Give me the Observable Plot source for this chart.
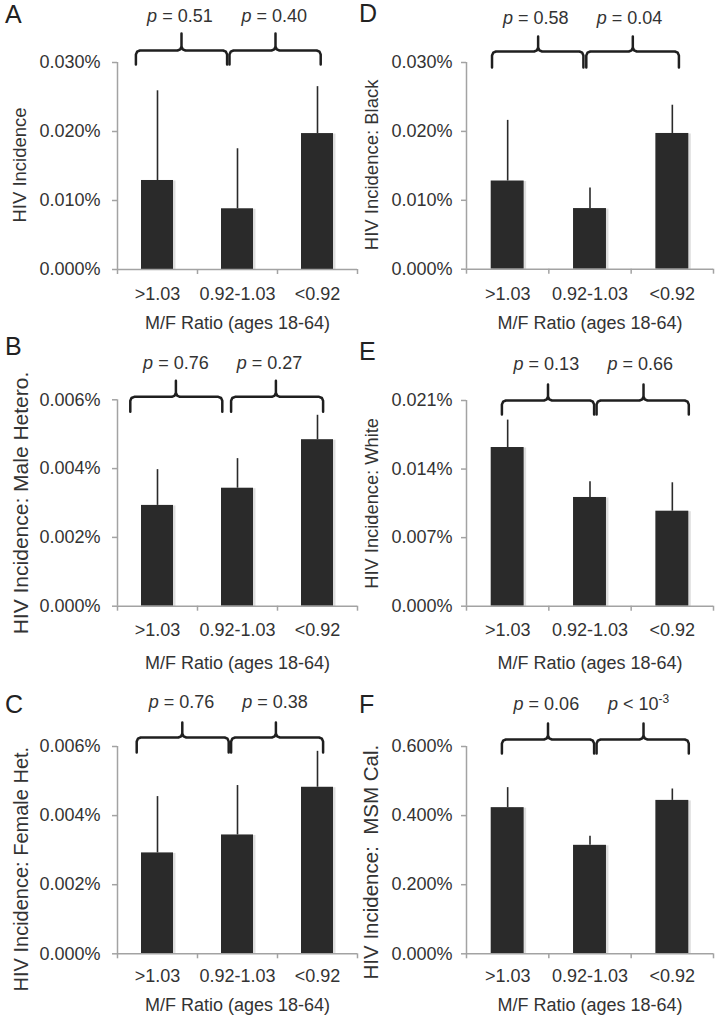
<!DOCTYPE html>
<html>
<head>
<meta charset="utf-8">
<script src="https://cdn.jsdelivr.net/npm/d3@7"></script>
<script src="https://cdn.jsdelivr.net/npm/@observablehq/plot@0.6"></script>
<style>
  body { margin: 0; background: #fff; font-family: "Liberation Sans", Arial, sans-serif; }
  #root { position: relative; width: 715px; height: 1021px; overflow: hidden; background: #fff; }
  .panel { position: absolute; }
  .panel svg { overflow: visible; }
  .letter { position: absolute; font-size: 25px; line-height: 1; color: #222; font-family: "Liberation Sans", Arial, sans-serif; }
  .ptext text { white-space: pre; }
</style>
</head>
<body>
<div id="root"></div>
<script>
// ---------- data ----------
const categories = [">1.03", "0.92-1.03", "<0.92"];
const xTitle = "M/F Ratio (ages 18-64)";
const letters = ["A", "B", "C", "D", "E", "F"];
const yTitles = [
  "HIV Incidence",
  "HIV Incidence: Male Hetero.",
  "HIV Incidence: Female Het.",
  "HIV Incidence: Black",
  "HIV Incidence: White",
  "HIV Incidence:  MSM Cal."
];
// y axis maxima (percent)
const yMaxima = [0.030, 0.006, 0.006, 0.030, 0.021, 0.600];
// incidence (percent) and upper error bound (percent)
const incidenceA = [0.0129, 0.0088, 0.0197];
const upperA     = [0.0259, 0.0175, 0.0265];
const incidenceB = [0.00293, 0.00343, 0.00484];
const upperB     = [0.00397, 0.00429, 0.00555];
const incidenceC = [0.00292, 0.00344, 0.00482];
const upperC     = [0.00455, 0.00487, 0.00586];
const incidenceD = [0.0128, 0.0088, 0.0197];
const upperD     = [0.0216, 0.0118, 0.0238];
const incidenceE = [0.0162, 0.0111, 0.0097];
const upperE     = [0.0190, 0.0127, 0.0126];
const incidenceF = [0.423, 0.314, 0.444];
const upperF     = [0.481, 0.340, 0.477];
const pLabels = [
  ["p = 0.51", "p = 0.40"],
  ["p = 0.76", "p = 0.27"],
  ["p = 0.76", "p = 0.38"],
  ["p = 0.58", "p = 0.04"],
  ["p = 0.13", "p = 0.66"],
  ["p = 0.06", "p < 10^-3"]
];
const incidences = [incidenceA, incidenceB, incidenceC, incidenceD, incidenceE, incidenceF];
const uppers = [upperA, upperB, upperC, upperD, upperE, upperF];

// ---------- layout (positions, not data) ----------
const layout = [
  {left: 0,   top: 0,   width: 357, height: 340, mL: 117, mR: 0, mT: 62, mB: 71,   yPad: 12, xLab: 31,   xT: 59.5, tX: 20,   tDy: -1, tSize: 18.5,
   br: [[0.23, 1.37, 0.80], [1.40, 2.54, 1.975]], bY: [-2, 12, 29, 41], tx: [0.78, 1.96], lx: 5,   ly: 2},
  {left: 0,   top: 340, width: 357, height: 340, mL: 117, mR: 0, mT: 59.3, mB: 74.3, yPad: 12, xLab: 29.5, xT: 62.5, tX: 20.7, tDy: 0, tSize: 21,
   br: [[0.16, 1.31, 0.73], [1.42, 2.57, 1.98]], bY: [-12, 3, 19, 31], tx: [0.73, 1.90], lx: 5,   ly: 334},
  {left: 0,   top: 680, width: 357, height: 341, mL: 117, mR: 0, mT: 66, mB: 67.7, yPad: 12, xLab: 28.5, xT: 57,   tX: 20.7, tDy: 19, tSize: 20,
   br: [[0.24, 1.39, 0.81], [1.42, 2.57, 1.98]], bY: [-6, 9, 24, 39], tx: [0.80, 1.97], lx: 5,   ly: 692},
  {left: 357, top: 0,   width: 358, height: 340, mL: 109, mR: 2, mT: 62, mB: 71.3, yPad: 9,  xLab: 31,   xT: 59.5, tX: 15,   tDy: -1, tSize: 18.5,
   br: [[0.31, 1.42, 0.87], [1.455, 2.58, 2.02]], bY: [-5, 11, 26, 39], tx: [0.84, 1.98], lx: 359, ly: 1},
  {left: 357, top: 340, width: 358, height: 340, mL: 109, mR: 2, mT: 60, mB: 74.3, yPad: 9,  xLab: 29.5, xT: 62.5, tX: 15,   tDy: 0, tSize: 18.3,
   br: [[0.43, 1.55, 0.99], [1.58, 2.70, 2.15]], bY: [-14, 0, 16, 31], tx: [0.97, 2.11], lx: 359, ly: 339},
  {left: 357, top: 680, width: 358, height: 341, mL: 109, mR: 2, mT: 66, mB: 67.7, yPad: 9,  xLab: 28.5, xT: 57,   tX: 14.3, tDy: 12, tSize: 20.5,
   br: [[0.43, 1.55, 0.99], [1.58, 2.70, 2.15]], bY: [-7, 7, 23, 37], tx: [0.97, 2.09], lx: 359, ly: 692}
];

const AXIS = "#a3a3a3";
const INK = "#333";
const BAR = "#2a2a2a";
const fmt = d => d.toFixed(3) + "%";

function richP(el) {
  const s = el.textContent;
  el.textContent = "";
  const sel = d3.select(el);
  sel.append("tspan").attr("font-style", "italic").text(s[0]);
  const parts = s.slice(1).split("^");
  sel.append("tspan").text(parts[0]);
  if (parts[1]) sel.append("tspan").attr("font-size", "12px").attr("dy", "-7").text(parts[1]);
}

const root = document.getElementById("root");

layout.forEach((L, k) => {
  const max = yMaxima[k];
  const data = categories.map((c, i) => ({i, c, v: incidences[k][i], e: uppers[k][i]}));
  const W = L.width - L.mL - L.mR;
  const band = W / 3;
  const H = L.height - L.mT - L.mB;
  const yv = px => max * (1 + px / H);
  const ru = 4 / band;
  const [ye, yh, yp, yt] = L.bY;
  const brace = ([x0, x1, xp]) => [
    [x0, ye], [x0, yh - 4], [x0 + 0.3 * ru, yh - 1.2], [x0 + ru, yh],
    [xp - ru, yh], [xp - 0.3 * ru, yh + 1.2], [xp, yh + 4], [xp, yp],
    [xp, yh + 4], [xp + 0.3 * ru, yh + 1.2], [xp + ru, yh],
    [x1 - ru, yh], [x1 - 0.3 * ru, yh - 1.2], [x1, yh - 4], [x1, ye]
  ].map(([x, y]) => ({x, y: yv(y)}));
  const ticks = [0, max / 3, 2 * max / 3, max];
  const pData = pLabels[k].map((t, j) => ({x: L.tx[j], t}));

  const svg = Plot.plot({
    width: L.width, height: L.height,
    marginLeft: L.mL, marginRight: L.mR, marginTop: L.mT, marginBottom: L.mB,
    x: {domain: [0, 3]},
    y: {domain: [0, max]},
    style: {fontFamily: "Liberation Sans, Arial, sans-serif", fontSize: "18px", background: "transparent", overflow: "visible"},
    marks: [
      Plot.rectY(data, {x1: d => d.i + 0.3, x2: d => d.i + 0.7, y: "v", dx: 2.5, dy: 0.5, fill: "#000", fillOpacity: 0.13}),
      Plot.rectY(data, {x1: d => d.i + 0.3, x2: d => d.i + 0.7, y: "v", fill: BAR}),
      Plot.ruleX(data, {x: d => d.i + 0.5, y1: "v", y2: "e", stroke: BAR, strokeWidth: 1.6}),
      Plot.ruleY([0], {stroke: AXIS, strokeWidth: 1.5}),
      Plot.ruleX([0], {y1: 0, y2: max, stroke: AXIS, strokeWidth: 1.5}),
      Plot.axisY(ticks, {tickSize: 5, tickFormat: () => "", stroke: AXIS, strokeWidth: 1.5, label: null}),
      Plot.axisY(ticks, {tickSize: 0, tickPadding: L.yPad + 5, tickFormat: fmt, fill: INK, fontSize: 18, label: null}),
      Plot.axisX([0, 1, 2, 3], {tickSize: 5, tickFormat: () => "", stroke: AXIS, strokeWidth: 1.5, label: null}),
      Plot.axisX([0.5, 1.5, 2.5], {tickSize: 0, tickPadding: L.xLab - 12.8, tickFormat: d => categories[Math.floor(d)], fill: INK, fontSize: 18, label: null}),
      Plot.text([yTitles[k]], {text: d => d, frameAnchor: "left", textAnchor: "middle", rotate: -90, dx: L.tX - L.mL, dy: L.tDy, fontSize: L.tSize, fill: INK, lineAnchor: "middle"}),
      Plot.text([xTitle], {text: d => d, frameAnchor: "bottom", textAnchor: "middle", dy: L.xT, lineAnchor: "bottom", fontSize: 18, fill: INK}),
      Plot.line(brace(L.br[0]), {x: "x", y: "y", stroke: "#1f1f1f", strokeWidth: 2.5, strokeLinejoin: "round"}),
      Plot.line(brace(L.br[1]), {x: "x", y: "y", stroke: "#1f1f1f", strokeWidth: 2.5, strokeLinejoin: "round"}),
      Plot.text(pData, {x: "x", y: () => yv(yt), text: "t", textAnchor: "middle", lineAnchor: "bottom", fontSize: 18, fill: INK, className: "ptext"})
    ]
  });
  d3.select(svg).selectAll(".ptext text").each(function () { richP(this); });

  const div = document.createElement("div");
  div.className = "panel";
  div.style.left = L.left + "px";
  div.style.top = L.top + "px";
  div.appendChild(svg);
  root.appendChild(div);

  const lt = document.createElement("div");
  lt.className = "letter";
  lt.style.left = L.lx + "px";
  lt.style.top = L.ly + "px";
  lt.textContent = letters[k];
  root.appendChild(lt);
});
</script>
</body>
</html>
